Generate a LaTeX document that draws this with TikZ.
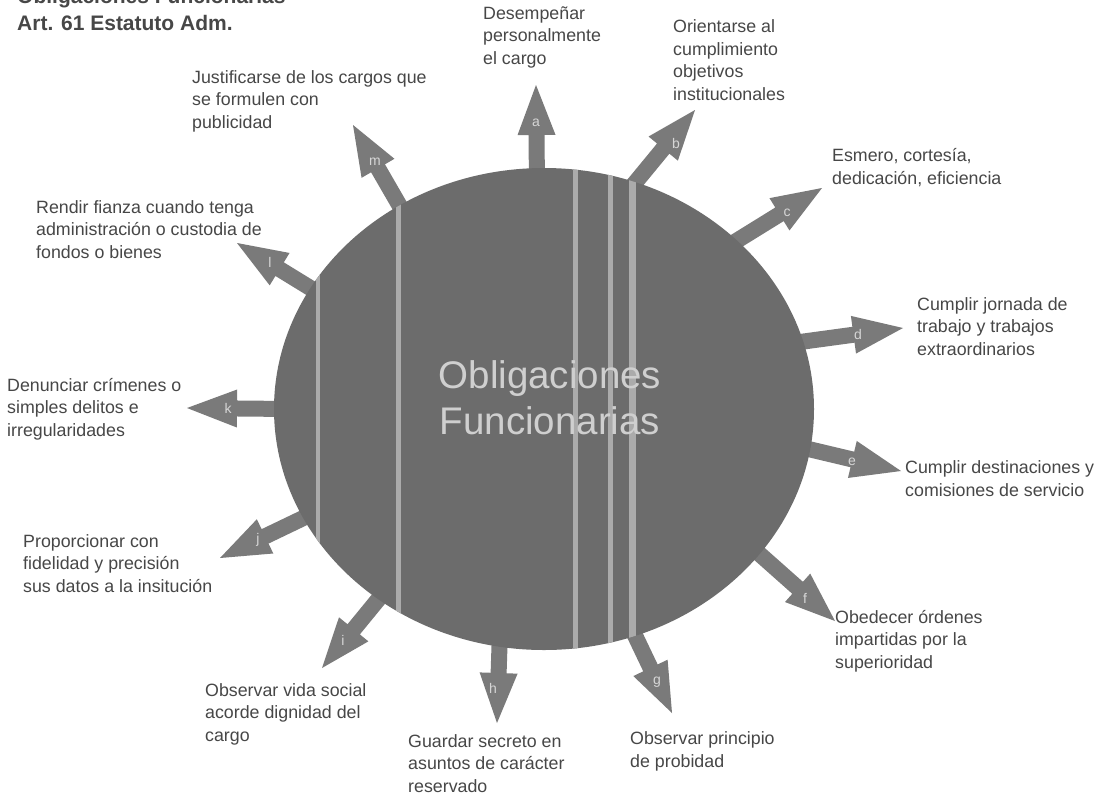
\documentclass[tikz,border=0pt]{standalone}
\usepackage{fontspec}
\setmainfont{Liberation Sans}
\usetikzlibrary{calc,shapes.geometric}
\definecolor{bodygray}{HTML}{6C6C6C}
\definecolor{arrowgray}{HTML}{7A7A7A}
\definecolor{stripegray}{HTML}{ABABAB}
\definecolor{centertext}{HTML}{CFCFCF}
\definecolor{labelgray}{HTML}{474747}
\definecolor{lettergray}{HTML}{D6D6D6}
\newcommand\blockarrow[1]{%
  \coordinate (#1h) at ($(#1t)!50pt!(#1s)$);
  \fill[arrowgray] ($(#1s)!8pt!90:(#1t)$) -- ($(#1h)!8pt!90:(#1t)$) -- ($(#1h)!19pt!90:(#1t)$) -- (#1t)
    -- ($(#1h)!19pt!-90:(#1t)$) -- ($(#1h)!8pt!-90:(#1t)$) -- ($(#1s)!8pt!-90:(#1t)$) -- cycle;}
\begin{document}
\begin{tikzpicture}[x=1pt,y=-1pt,
  lbl/.style={font=\fontsize{17.8}{22.5}\selectfont, text=labelgray, align=left, inner sep=0pt, anchor=base west},
  letter/.style={font=\fontsize{14}{14}\selectfont, text=lettergray, inner sep=0pt},
  stripe/.style={draw=stripegray, line width=#1}]
\useasboundingbox (0,0) rectangle (1104,796);
\fill[white] (0,0) rectangle (1104,796);

% arrow bases (s) and tips (t)
\coordinate (as) at (537,185); \coordinate (at) at (536,85);
\coordinate (bs) at (625,195); \coordinate (bt) at (695,110);
\coordinate (cs) at (725,248); \coordinate (ct) at (822,188);
\coordinate (ds) at (800,342); \coordinate (dt) at (903,328);
\coordinate (es) at (800,447); \coordinate (et) at (901,471);
\coordinate (fs) at (755,550); \coordinate (ft) at (835,621);
\coordinate (gs) at (630,625); \coordinate (gt) at (672,713);
\coordinate (hs) at (500,630); \coordinate (ht) at (497,723);
\coordinate (is) at (390,585); \coordinate (it) at (322,668);
\coordinate (js) at (320,510); \coordinate (jt) at (220,558);
\coordinate (ks) at (290,409); \coordinate (kt) at (187,408);
\coordinate (ls) at (325,297); \coordinate (lt) at (237,243);
\coordinate (ms) at (405,215); \coordinate (mt) at (353,125);

\blockarrow{a}\blockarrow{b}\blockarrow{c}\blockarrow{d}\blockarrow{e}
\blockarrow{f}\blockarrow{g}\blockarrow{h}\blockarrow{i}\blockarrow{j}
\blockarrow{k}\blockarrow{l}\blockarrow{m}

% main body
\node[ellipse, fill=bodygray, minimum width=540pt, minimum height=482pt, inner sep=0pt] (body) at (544,409) {};
\begin{scope}
  \clip (544,409) ellipse [x radius=270pt, y radius=241pt];
  \draw[stripe=4pt] (318,150) -- (318,660);
  \draw[stripe=5pt] (398,150) -- (398,660);
  \draw[stripe=5pt] (575,150) -- (575,660);
  \draw[stripe=5pt] (610,150) -- (610,660);
  \draw[stripe=7pt] (632,150) -- (632,660);
\end{scope}

\node[font=\fontsize{38.5}{46}\selectfont, text=centertext, align=center, inner sep=0pt, anchor=south] (ctext) at (550,435) {Obligaciones\\Funcionarias};

% arrow letters
\node[letter] (la) at (536,123) {a};
\node[letter] (lb) at (676,143) {b};
\node[letter] (lc) at (787,213) {c};
\node[letter] (ld) at (858,334) {d};
\node[letter] (le) at (852,462) {e};
\node[letter] (lf) at (805,598) {f};
\node[letter] (lg) at (657,682) {g};
\node[letter] (lh) at (493,688) {h};
\node[letter] (li) at (343,640) {i};
\node[letter] (lj) at (258,540) {j};
\node[letter] (lk) at (228,408) {k};
\node[letter] (ll) at (270,262) {l};
\node[letter] (lm) at (375,162) {m};

% title (anchored at the baseline of its last line)
\node[lbl, font=\fontsize{21}{27}\selectfont\bfseries] (title) at (17,30) {Obligaciones Funcionarias\\Art. 61 Estatuto Adm.};

% labels (anchored at the baseline of their last line)
\node[lbl] (tm) at (192,128) {Justificarse de los cargos que\\se formulen con\\publicidad};
\node[lbl] (ta) at (483,64) {Desempeñar\\personalmente\\el cargo};
\node[lbl] (tb) at (673,100) {Orientarse al\\cumplimiento\\objetivos\\institucionales};
\node[lbl] (tc) at (832,184) {Esmero, cortesía,\\dedicación, eficiencia};
\node[lbl] (td) at (917,355) {Cumplir jornada de\\trabajo y trabajos\\extraordinarios};
\node[lbl] (te) at (905,496) {Cumplir destinaciones y\\comisiones de servicio};
\node[lbl] (tf) at (835,668) {Obedecer órdenes\\impartidas por la\\superioridad};
\node[lbl] (tg) at (630,767) {Observar principio\\de probidad};
\node[lbl] (th) at (408,792) {Guardar secreto en\\asuntos de carácter\\reservado};
\node[lbl] (ti) at (205,741) {Observar vida social\\acorde dignidad del\\cargo};
\node[lbl] (tj) at (23,592) {Proporcionar con\\fidelidad y precisión\\sus datos a la insitución};
\node[lbl] (tk) at (7,436) {Denunciar crímenes o\\simples delitos e\\irregularidades};
\node[lbl] (tl) at (36,258) {Rendir fianza cuando tenga\\administración o custodia de\\fondos o bienes};
\end{tikzpicture}
\end{document}
